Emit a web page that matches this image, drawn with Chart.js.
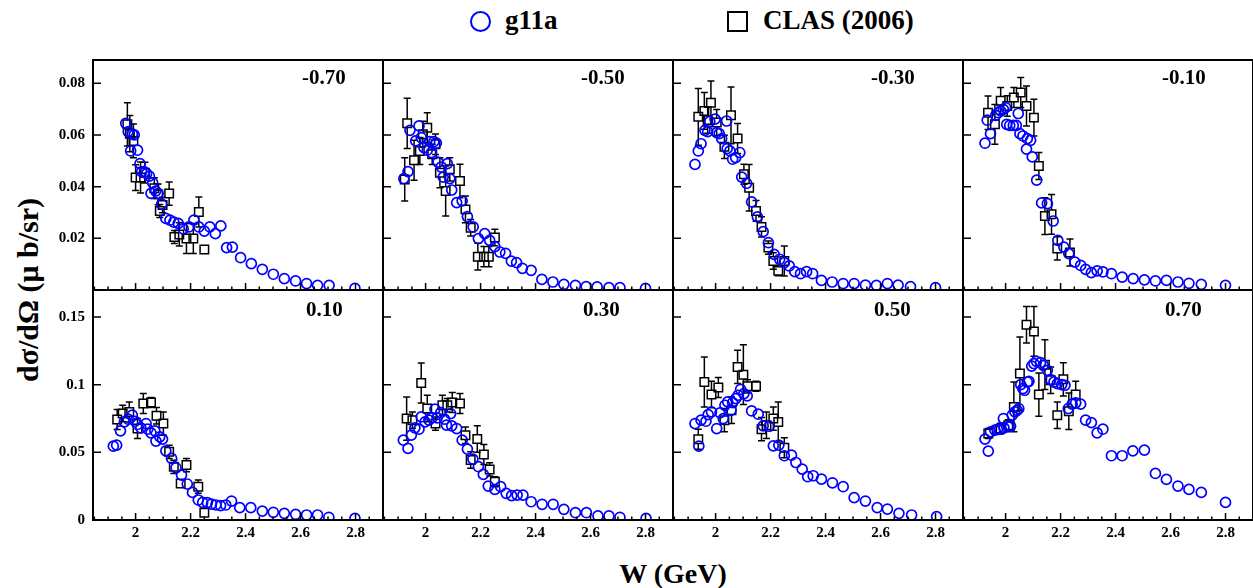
<!DOCTYPE html>
<html lang="en">
<head>
  <meta charset="UTF-8" />
  <title>dsigma/dOmega vs W</title>
  <script src="https://cdn.jsdelivr.net/npm/chart.js"></script>
  <style>
    body {
      margin: 0;
      width: 1253px;
      height: 588px;
      overflow: hidden;
      position: relative;
      background: #fff;
      font-family: "Liberation Serif", "DejaVu Serif", serif;
      font-weight: bold;
      color: #000;
    }
    canvas { position: absolute; }
    .txt { position: absolute; white-space: nowrap; line-height: 1; }
    .panel-label { font-size: 21px; }
    .legend { font-size: 27px; top: 7px; }
    .mark-circle {
      position: absolute; width: 17px; height: 17px; top: 11px;
      border: 2px solid #0000ff; border-radius: 50%;
    }
    .mark-square {
      position: absolute; width: 17px; height: 17px; top: 11px;
      border: 2px solid #000;
    }
    #ytitle {
      font-size: 30px; left: 28px; top: 290px;
      transform: translate(-50%, -50%) rotate(-90deg);
    }
    #xtitle { font-size: 28px; left: 673px; top: 560px; transform: translateX(-50%); }
  </style>
</head>
<body>
  <div class="mark-circle" style="left:470px"></div>
  <div class="txt legend" style="left:505px">g11a</div>
  <div class="mark-square" style="left:727px"></div>
  <div class="txt legend" style="left:763px">CLAS (2006)</div>
  <div class="txt" id="ytitle">dσ/dΩ (μ b/sr)</div>
  <div class="txt" id="xtitle">W (GeV)</div>

  <script>
    // cos(theta) bins, one per panel
    const ANGLES = ["-0.70", "-0.50", "-0.30", "-0.10", "0.10", "0.30", "0.50", "0.70"];
    const X_TICKS = [2, 2.2, 2.4, 2.6, 2.8];
    const Y_TICKS_TOP = [0.02, 0.04, 0.06, 0.08];
    const Y_TICKS_BOTTOM = [0, 0.05, 0.1, 0.15];

    // g11a points: [W, dsigma]
    const g11a_m070 = [[1.964,0.0645],[1.973,0.0613],[1.982,0.0538],[1.988,0.0603],[1.995,0.0600],[2.007,0.0541],[2.016,0.0489],[2.022,0.0458],[2.032,0.0457],[2.040,0.0450],[2.050,0.0441],[2.056,0.0374],[2.062,0.0415],[2.073,0.0383],[2.082,0.0374],[2.095,0.0332],[2.110,0.0277],[2.125,0.0270],[2.139,0.0263],[2.155,0.0258],[2.173,0.0237],[2.194,0.0244],[2.212,0.0270],[2.230,0.0244],[2.250,0.0228],[2.270,0.0244],[2.290,0.0218],[2.310,0.0248],[2.331,0.0164],[2.352,0.0166],[2.382,0.0125],[2.421,0.0102],[2.461,0.0080],[2.501,0.0061],[2.541,0.0044],[2.582,0.0035],[2.622,0.0025],[2.662,0.0018],[2.704,0.0018],[2.798,0.0006]];
    const g11a_m050 = [[1.921,0.0431],[1.936,0.0458],[1.943,0.0618],[1.964,0.0577],[1.976,0.0635],[1.984,0.0590],[1.994,0.0551],[2.006,0.0541],[2.015,0.0574],[2.021,0.0532],[2.030,0.0574],[2.039,0.0568],[2.045,0.0495],[2.057,0.0476],[2.064,0.0437],[2.079,0.0489],[2.088,0.0431],[2.095,0.0387],[2.113,0.0338],[2.133,0.0345],[2.152,0.0284],[2.173,0.0244],[2.192,0.0199],[2.215,0.0218],[2.233,0.0192],[2.252,0.0168],[2.270,0.0147],[2.291,0.0142],[2.312,0.0112],[2.331,0.0106],[2.352,0.0084],[2.384,0.0076],[2.423,0.0041],[2.463,0.0031],[2.503,0.0022],[2.545,0.0018],[2.584,0.0013],[2.624,0.0012],[2.667,0.0009],[2.707,0.0009],[2.800,0.0006]];
    const g11a_m030 = [[1.925,0.0486],[1.937,0.0538],[1.947,0.0566],[1.961,0.0618],[1.971,0.0613],[1.979,0.0652],[1.998,0.0661],[2.004,0.0609],[2.013,0.0605],[2.022,0.0586],[2.040,0.0654],[2.042,0.0547],[2.052,0.0538],[2.062,0.0506],[2.073,0.0512],[2.088,0.0532],[2.095,0.0437],[2.113,0.0413],[2.131,0.0341],[2.152,0.0283],[2.173,0.0226],[2.192,0.0183],[2.213,0.0138],[2.233,0.0119],[2.250,0.0106],[2.268,0.0093],[2.288,0.0071],[2.309,0.0063],[2.331,0.0071],[2.353,0.0063],[2.385,0.0037],[2.424,0.0031],[2.464,0.0025],[2.504,0.0025],[2.545,0.0019],[2.585,0.0018],[2.625,0.0025],[2.664,0.0019],[2.709,0.0013],[2.800,0.0009]];
    const g11a_m010 = [[1.925,0.0568],[1.933,0.0657],[1.945,0.0605],[1.964,0.0676],[1.973,0.0686],[1.982,0.0693],[1.992,0.0699],[2.000,0.0706],[2.004,0.0641],[2.015,0.0637],[2.028,0.0637],[2.039,0.0637],[2.046,0.0683],[2.052,0.0605],[2.063,0.0596],[2.076,0.0545],[2.079,0.0586],[2.091,0.0579],[2.097,0.0515],[2.113,0.0425],[2.131,0.0337],[2.152,0.0334],[2.173,0.0267],[2.190,0.0192],[2.212,0.0166],[2.230,0.0141],[2.252,0.0108],[2.273,0.0095],[2.291,0.0080],[2.312,0.0067],[2.333,0.0074],[2.354,0.0070],[2.385,0.0063],[2.424,0.0050],[2.464,0.0044],[2.505,0.0039],[2.545,0.0035],[2.585,0.0037],[2.627,0.0031],[2.667,0.0026],[2.712,0.0022],[2.800,0.0018]];
    const g11a_p010 = [[1.919,0.0546],[1.931,0.0553],[1.945,0.0659],[1.959,0.0725],[1.973,0.0745],[1.988,0.0775],[1.998,0.0730],[2.007,0.0706],[2.019,0.0681],[2.038,0.0713],[2.044,0.0671],[2.056,0.0644],[2.070,0.0659],[2.074,0.0583],[2.088,0.0615],[2.098,0.0598],[2.110,0.0511],[2.131,0.0455],[2.147,0.0386],[2.167,0.0332],[2.188,0.0266],[2.207,0.0204],[2.228,0.0148],[2.244,0.0130],[2.261,0.0128],[2.276,0.0118],[2.292,0.0111],[2.309,0.0106],[2.328,0.0111],[2.349,0.0140],[2.379,0.0091],[2.419,0.0091],[2.461,0.0066],[2.501,0.0057],[2.541,0.0049],[2.582,0.0042],[2.622,0.0037],[2.662,0.0037],[2.703,0.0020],[2.798,0.0012]];
    const g11a_p030 = [[1.919,0.0590],[1.936,0.0529],[1.948,0.0627],[1.961,0.0681],[1.976,0.0671],[1.984,0.0762],[1.998,0.0725],[2.012,0.0738],[2.024,0.0757],[2.034,0.0819],[2.042,0.0755],[2.055,0.0794],[2.069,0.0745],[2.076,0.0701],[2.091,0.0787],[2.095,0.0696],[2.113,0.0676],[2.133,0.0590],[2.152,0.0524],[2.172,0.0450],[2.192,0.0394],[2.210,0.0337],[2.228,0.0251],[2.252,0.0226],[2.273,0.0246],[2.293,0.0197],[2.313,0.0180],[2.333,0.0184],[2.354,0.0184],[2.384,0.0135],[2.424,0.0116],[2.464,0.0116],[2.503,0.0079],[2.545,0.0054],[2.585,0.0054],[2.627,0.0030],[2.667,0.0030],[2.707,0.0020],[2.802,0.0012]];
    const g11a_p050 = [[1.925,0.0713],[1.939,0.0546],[1.947,0.0738],[1.965,0.0730],[1.973,0.0779],[1.985,0.0799],[2.004,0.0676],[2.016,0.0792],[2.028,0.0750],[2.034,0.0848],[2.044,0.0873],[2.056,0.0811],[2.062,0.0868],[2.073,0.0897],[2.082,0.0922],[2.091,0.0966],[2.103,0.0934],[2.115,0.0917],[2.131,0.0806],[2.155,0.0782],[2.173,0.0696],[2.195,0.0693],[2.210,0.0548],[2.230,0.0553],[2.250,0.0475],[2.276,0.0479],[2.292,0.0425],[2.315,0.0376],[2.335,0.0320],[2.355,0.0327],[2.385,0.0302],[2.425,0.0275],[2.464,0.0246],[2.504,0.0165],[2.545,0.0140],[2.588,0.0091],[2.625,0.0081],[2.667,0.0049],[2.713,0.0037],[2.804,0.0025]];
    const g11a_p070 = [[1.925,0.0598],[1.937,0.0509],[1.945,0.0652],[1.961,0.0664],[1.970,0.0669],[1.978,0.0669],[1.992,0.0750],[1.994,0.0681],[2.010,0.0688],[2.018,0.0693],[2.024,0.0775],[2.034,0.0799],[2.042,0.0811],[2.048,0.0824],[2.055,0.1001],[2.063,0.0971],[2.069,0.0959],[2.079,0.1020],[2.085,0.1025],[2.095,0.1138],[2.103,0.1156],[2.112,0.1173],[2.127,0.1163],[2.137,0.1143],[2.152,0.1106],[2.164,0.1038],[2.176,0.1020],[2.188,0.1008],[2.204,0.1001],[2.216,0.0996],[2.228,0.0824],[2.242,0.0856],[2.255,0.0866],[2.273,0.0856],[2.291,0.0738],[2.312,0.0720],[2.333,0.0644],[2.354,0.0671],[2.385,0.0475],[2.424,0.0475],[2.463,0.0511],[2.505,0.0516],[2.545,0.0344],[2.585,0.0300],[2.627,0.0251],[2.667,0.0226],[2.712,0.0204],[2.800,0.0130]];

    // CLAS (2006) points: [W, dsigma, error]
    const clas_m070 = [[1.970,0.0641,0.0084],[1.979,0.0605,0.0070],[1.992,0.0577,0.0065],[2.000,0.0435,0.0050],[2.018,0.0435,0.0060],[2.034,0.0454,0.0040],[2.068,0.0394,0.0040],[2.082,0.0370,0.0040],[2.088,0.0306,0.0025],[2.098,0.0329,0.0030],[2.122,0.0373,0.0045],[2.141,0.0205,0.0025],[2.159,0.0215,0.0045],[2.185,0.0199,0.0058],[2.210,0.0199,0.0058],[2.230,0.0302,0.0058],[2.250,0.0157,0.0013]];
    const clas_m050 = [[1.924,0.0428,0.0084],[1.933,0.0645,0.0097],[1.958,0.0502,0.0077],[1.979,0.0538,0.0052],[1.990,0.0603,0.0050],[2.006,0.0628,0.0058],[2.024,0.0525,0.0039],[2.036,0.0564,0.0040],[2.052,0.0454,0.0058],[2.073,0.0383,0.0097],[2.088,0.0467,0.0045],[2.125,0.0422,0.0065],[2.145,0.0312,0.0052],[2.164,0.0241,0.0032],[2.190,0.0129,0.0052],[2.212,0.0129,0.0039],[2.230,0.0129,0.0039],[2.252,0.0203,0.0032]];
    const clas_m030 = [[1.937,0.0670,0.0110],[1.959,0.0693,0.0071],[1.971,0.0657,0.0050],[1.983,0.0725,0.0084],[2.004,0.0648,0.0050],[2.032,0.0554,0.0045],[2.056,0.0676,0.0110],[2.080,0.0586,0.0058],[2.103,0.0448,0.0039],[2.122,0.0396,0.0090],[2.147,0.0306,0.0040],[2.167,0.0244,0.0039],[2.192,0.0164,0.0026],[2.210,0.0112,0.0032],[2.228,0.0074,0.0019],[2.250,0.0112,0.0058]];
    const clas_m010 = [[1.936,0.0686,0.0065],[1.961,0.0641,0.0077],[1.982,0.0732,0.0052],[2.006,0.0712,0.0040],[2.030,0.0745,0.0039],[2.055,0.0764,0.0058],[2.076,0.0712,0.0077],[2.103,0.0667,0.0071],[2.121,0.0480,0.0052],[2.143,0.0286,0.0071],[2.167,0.0293,0.0077],[2.188,0.0161,0.0045],[2.234,0.0145,0.0052]];
    const clas_p010 = [[1.933,0.0743,0.0074],[1.953,0.0787,0.0061],[1.977,0.0799,0.0074],[2.007,0.0676,0.0074],[2.028,0.0861,0.0074],[2.056,0.0868,0.0037],[2.076,0.0770,0.0061],[2.101,0.0713,0.0086],[2.122,0.0504,0.0049],[2.139,0.0393,0.0049],[2.164,0.0270,0.0025],[2.185,0.0406,0.0049],[2.228,0.0246,0.0049],[2.250,0.0054,0.0025]];
    const clas_p030 = [[1.931,0.0750,0.0160],[1.952,0.0738,0.0060],[1.984,0.1013,0.0148],[2.006,0.0824,0.0098],[2.036,0.0713,0.0049],[2.061,0.0848,0.0074],[2.079,0.0848,0.0050],[2.097,0.0868,0.0074],[2.125,0.0861,0.0074],[2.145,0.0627,0.0061],[2.164,0.0443,0.0061],[2.188,0.0598,0.0098],[2.212,0.0484,0.0074],[2.233,0.0374,0.0049],[2.252,0.0283,0.0037]];
    const clas_p050 = [[1.937,0.0597,0.0074],[1.959,0.1020,0.0184],[1.985,0.0927,0.0098],[2.010,0.0979,0.0074],[2.032,0.0738,0.0086],[2.058,0.0811,0.0098],[2.080,0.1131,0.0123],[2.101,0.1074,0.0221],[2.116,0.0988,0.0049],[2.147,0.0988,0.0037],[2.167,0.0671,0.0086],[2.185,0.0701,0.0098],[2.210,0.0750,0.0086],[2.228,0.0725,0.0148],[2.250,0.0534,0.0074]];
    const clas_p070 = [[1.937,0.0639,0.0037],[1.982,0.0676,0.0040],[2.010,0.0701,0.0040],[2.030,0.0836,0.0184],[2.052,0.1082,0.0270],[2.076,0.1443,0.0135],[2.103,0.1394,0.0184],[2.121,0.0927,0.0160],[2.143,0.1148,0.0184],[2.164,0.1033,0.0098],[2.188,0.0775,0.0098],[2.210,0.1040,0.0123],[2.230,0.0804,0.0135],[2.255,0.0927,0.0098]];

    const G11A = [g11a_m070, g11a_m050, g11a_m030, g11a_m010, g11a_p010, g11a_p030, g11a_p050, g11a_p070];
    const CLAS = [clas_m070, clas_m050, clas_m030, clas_m010, clas_p010, clas_p030, clas_p050, clas_p070];

    // layout of the 4x2 grid (pixels)
    const COL_LEFT = [93, 383, 673, 963];
    const ROW_TOP = [60, 290];
    const PANEL_W = 290, PANEL_H = 230;
    const Y_AXIS_W = 60, X_AXIS_H = 30, PAD = 2;
    const LABEL_DX = [209, 198, 198, 199, 213, 200, 201, 202];
    const SQ_HALF = 4.2;

    const tickFont = { family: "Liberation Serif", weight: "bold", size: 15 };

    // vertical error bars for the CLAS points, drawn under the markers
    const errorBars = {
      id: "errorBars",
      beforeDatasetsDraw(chart) {
        const { ctx, chartArea: a, scales: { x, y } } = chart;
        const pts = chart.data.datasets[1].data;
        ctx.save();
        ctx.beginPath();
        ctx.rect(a.left, a.top, a.width, a.height);
        ctx.clip();
        ctx.strokeStyle = "#000";
        ctx.lineWidth = 1.5;
        ctx.beginPath();
        pts.forEach(p => {
          const px = x.getPixelForValue(p.x);
          const py = y.getPixelForValue(p.y);
          const top = y.getPixelForValue(p.y + p.err);
          const bot = y.getPixelForValue(p.y - p.err);
          if (top < py - SQ_HALF) {
            ctx.moveTo(px, py - SQ_HALF); ctx.lineTo(px, top);
            ctx.moveTo(px - 3.5, top); ctx.lineTo(px + 3.5, top);
          }
          if (bot > py + SQ_HALF) {
            ctx.moveTo(px, py + SQ_HALF); ctx.lineTo(px, bot);
            ctx.moveTo(px - 3.5, bot); ctx.lineTo(px + 3.5, bot);
          }
        });
        ctx.stroke();
        ctx.restore();
      }
    };

    // frame plus inward tick marks
    const frameTicks = {
      id: "frameTicks",
      afterDraw(chart) {
        const { ctx, chartArea: a, scales: { x, y } } = chart;
        ctx.save();
        ctx.strokeStyle = "#000";
        ctx.lineWidth = 1.5;
        ctx.beginPath();
        x.ticks.forEach(t => {
          const px = x.getPixelForValue(t.value);
          ctx.moveTo(px, a.bottom); ctx.lineTo(px, a.bottom - 7);
        });
        for (let i = 37; i <= 58; i++) {
          if (i % 4 === 0) continue;
          const v = i * 0.05;
          if (v <= x.min || v >= x.max) continue;
          const px = x.getPixelForValue(v);
          ctx.moveTo(px, a.bottom); ctx.lineTo(px, a.bottom - 3.5);
        }
        y.ticks.forEach(t => {
          const py = y.getPixelForValue(t.value);
          ctx.moveTo(a.left, py); ctx.lineTo(a.left + 8, py);
        });
        ctx.stroke();
        ctx.lineWidth = 2;
        ctx.strokeRect(a.left, a.top, a.width, a.height);
        ctx.restore();
      }
    };

    function makePanel(i) {
      const col = i % 4, row = Math.floor(i / 4);
      const canvas = document.createElement("canvas");
      canvas.width = Y_AXIS_W + PANEL_W + PAD;
      canvas.height = PAD + PANEL_H + X_AXIS_H;
      canvas.style.left = (COL_LEFT[col] - Y_AXIS_W) + "px";
      canvas.style.top = (ROW_TOP[row] - PAD) + "px";
      document.body.appendChild(canvas);

      const label = document.createElement("div");
      label.className = "txt panel-label";
      label.textContent = ANGLES[i];
      label.style.left = (COL_LEFT[col] + LABEL_DX[i]) + "px";
      label.style.top = (ROW_TOP[row] + (row === 0 ? 7 : 9)) + "px";
      document.body.appendChild(label);

      const yTicks = row === 0 ? Y_TICKS_TOP : Y_TICKS_BOTTOM;

      new Chart(canvas, {
        type: "scatter",
        data: {
          datasets: [
            {
              label: "g11a",
              data: G11A[i].map(p => ({ x: p[0], y: p[1] })),
              pointStyle: "circle",
              pointRadius: 5,
              borderColor: "#0000ff",
              backgroundColor: "rgba(0,0,0,0)",
              borderWidth: 1.7,
              clip: 0
            },
            {
              label: "CLAS (2006)",
              data: CLAS[i].map(p => ({ x: p[0], y: p[1], err: p[2] })),
              pointStyle: "rect",
              pointRadius: 6,
              borderColor: "#000",
              backgroundColor: "rgba(0,0,0,0)",
              borderWidth: 1.5,
              clip: 0
            }
          ]
        },
        options: {
          responsive: false,
          animation: false,
          devicePixelRatio: 1,
          layout: { autoPadding: false, padding: { top: PAD, right: PAD, left: 0, bottom: 0 } },
          plugins: { legend: { display: false }, tooltip: { enabled: false } },
          scales: {
            x: {
              type: "linear",
              min: 1.845,
              max: 2.9,
              grid: { display: false, drawTicks: false },
              border: { display: false },
              afterBuildTicks: s => { s.ticks = X_TICKS.map(v => ({ value: v })); },
              afterFit: s => { s.height = X_AXIS_H; s.paddingLeft = 0; s.paddingRight = 0; },
              ticks: {
                display: row === 1,
                padding: 4,
                maxRotation: 0,
                autoSkip: false,
                color: "#000",
                font: tickFont,
                callback: v => String(v)
              }
            },
            y: {
              type: "linear",
              min: 0,
              max: row === 0 ? 0.089 : 0.17,
              grid: { display: false, drawTicks: false },
              border: { display: false },
              afterBuildTicks: s => { s.ticks = yTicks.map(v => ({ value: v })); },
              afterFit: s => { s.width = Y_AXIS_W; s.paddingTop = 0; s.paddingBottom = 0; },
              ticks: {
                display: col === 0,
                padding: 8,
                autoSkip: false,
                color: "#000",
                font: tickFont,
                callback: v => String(v)
              }
            }
          }
        },
        plugins: [errorBars, frameTicks]
      });
    }

    for (let i = 0; i < 8; i++) makePanel(i);
  </script>
</body>
</html>
